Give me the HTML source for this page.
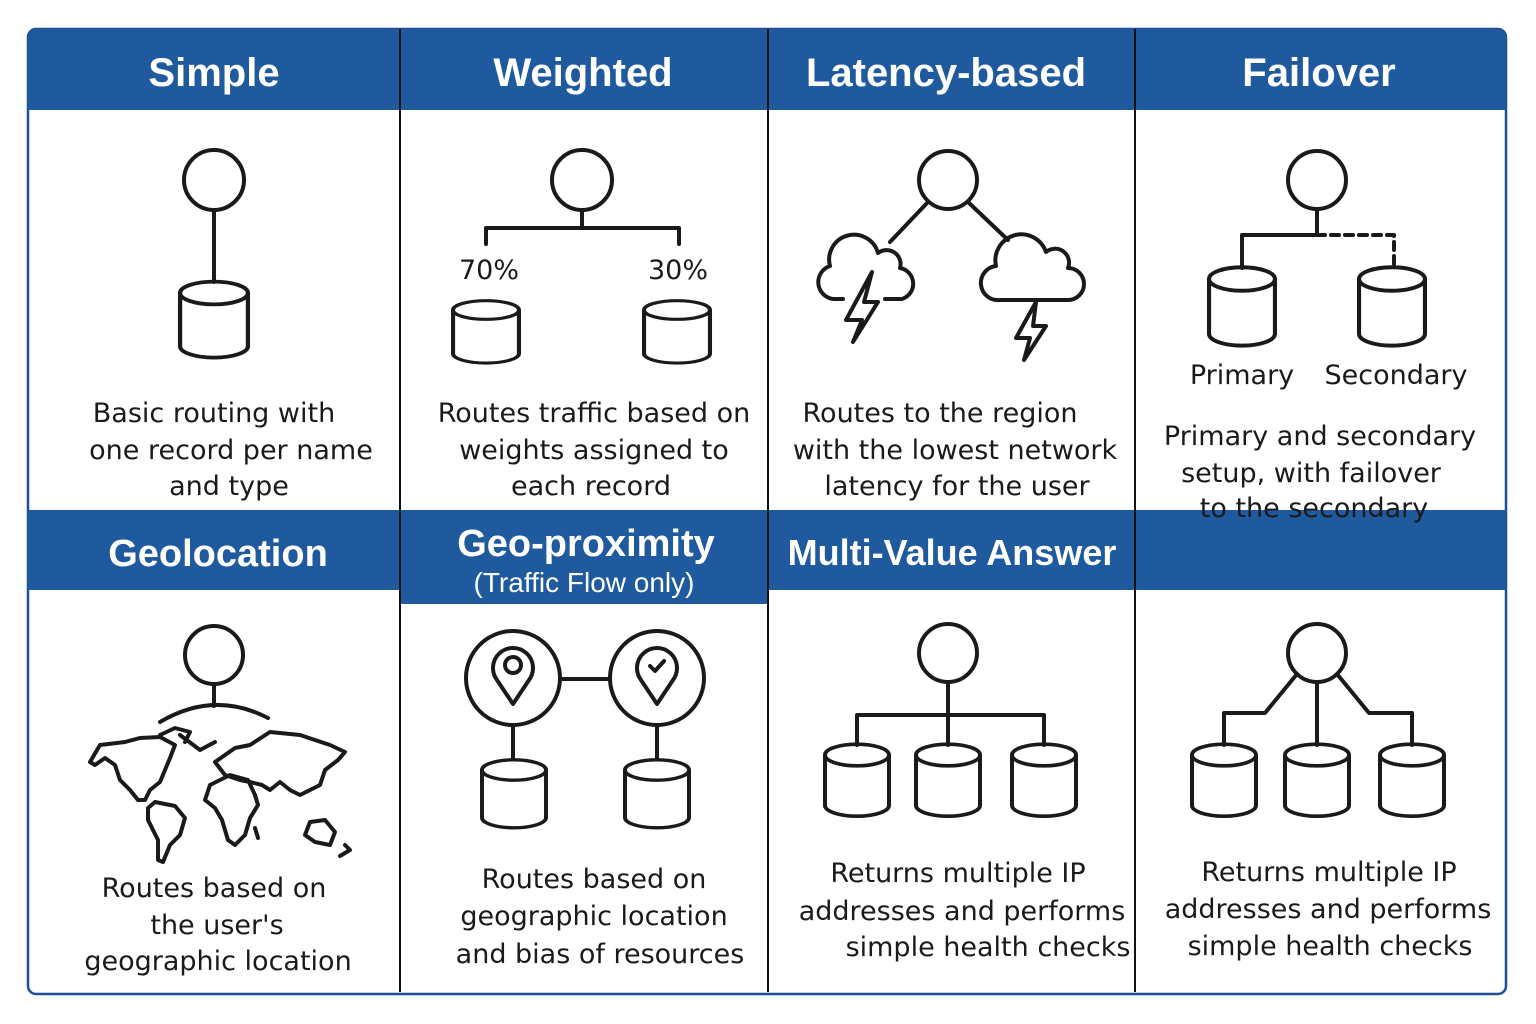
<!DOCTYPE html>
<html><head><meta charset="utf-8"><style>
html,body{margin:0;padding:0;background:#fff}
svg{display:block}
.h{font-family:"Liberation Sans",sans-serif;font-weight:bold;fill:#fff;text-anchor:middle}
.t{font-family:"DejaVu Sans","Liberation Sans",sans-serif;font-size:27px;fill:#1a1a1a;text-anchor:middle}
.s{fill:none;stroke:#1a1a1a;stroke-width:4;stroke-linejoin:round;stroke-linecap:round}
</style></head><body>
<svg width="1536" height="1024" viewBox="0 0 1536 1024" xmlns="http://www.w3.org/2000/svg">
<defs>
<g id="cyl"><path class="s" d="M-32 0 A32 12 0 0 0 32 0 A32 12 0 0 0 -32 0 Z M-32 0 V56 A32 12 0 0 0 32 56 V0" fill="#fff"/></g>
</defs>
<rect x="28" y="29" width="1478" height="965" rx="8" fill="#fff" stroke="#1f4f95" stroke-width="2.5"/>
<path d="M28 110 V37 A8 8 0 0 1 36 29 H1498 A8 8 0 0 1 1506 37 V110 Z" fill="#1f5a9e"/>
<rect x="28" y="510" width="1478" height="80" fill="#1f5a9e"/>
<rect x="400" y="510" width="368" height="94" fill="#1f5a9e"/>
<g stroke="#111" stroke-width="2">
<line x1="400" y1="29" x2="400" y2="992"/>
<line x1="768" y1="29" x2="768" y2="992"/>
<line x1="1135" y1="29" x2="1135" y2="992"/>
</g>
<text class="h" x="214" y="86" font-size="40">Simple</text>
<text class="h" x="583" y="86" font-size="40">Weighted</text>
<text class="h" x="946" y="86" font-size="40">Latency-based</text>
<text class="h" x="1319" y="86" font-size="40">Failover</text>
<text class="h" x="218" y="566" font-size="38">Geolocation</text>
<text class="h" x="586" y="556" font-size="38">Geo-proximity</text>
<text class="h" x="584" y="592" font-size="28" style="font-weight:normal">(Traffic Flow only)</text>
<text class="h" x="952" y="565" font-size="36">Multi-Value Answer</text>

<!-- Simple -->
<circle class="s" cx="214" cy="180" r="30"/>
<line class="s" x1="214" y1="210" x2="214" y2="282"/>
<g transform="translate(214,293) scale(1.06,0.95)"><use href="#cyl"/></g>
<text class="t" x="214" y="422">Basic routing with</text>
<text class="t" x="231" y="459">one record per name</text>
<text class="t" x="229" y="495">and type</text>

<!-- Weighted -->
<circle class="s" cx="582" cy="180" r="30"/>
<path class="s" d="M582 210 V228 M486 244 V228 H679 V244"/>
<text class="t" x="489" y="279">70%</text>
<text class="t" x="678" y="279">30%</text>
<g transform="translate(486,310) scale(1.03,0.78)"><use href="#cyl"/></g>
<g transform="translate(677,310) scale(1.03,0.78)"><use href="#cyl"/></g>
<text class="t" x="594" y="422">Routes traffic based on</text>
<text class="t" x="594" y="459">weights assigned to</text>
<text class="t" x="591" y="495">each record</text>

<!-- Latency -->
<circle class="s" cx="948" cy="180" r="29"/>
<path class="s" d="M928 202 L890 242 M968 202 L1008 240"/>
<path class="s" d="M843 299 H833 A17 17 0 0 1 830 266 A24 24 0 0 1 878 253 A14 14 0 0 1 900 268 A16 16 0 0 1 902 299 H885"/>
<path class="s" d="M872 272 L846 320 H862 L853 342 L878 302 H864 Z"/>
<path class="s" d="M1000 300 A16 16 0 0 1 996 266 A26 26 0 0 1 1046 252 A14 14 0 0 1 1068 268 A16 16 0 0 1 1068 300 Z"/>
<path class="s" d="M1036 302 L1016 338 H1030 L1024 360 L1046 326 H1033 Z"/>
<text class="t" x="940" y="422">Routes to the region</text>
<text class="t" x="955" y="459">with the lowest network</text>
<text class="t" x="957" y="495">latency for the user</text>

<!-- Failover -->
<circle class="s" cx="1317" cy="180" r="29"/>
<path class="s" d="M1317 209 V235 M1242 268 V235 H1317"/>
<path class="s" d="M1317 235 H1394 V266" stroke-dasharray="8 6" stroke-linecap="butt"/>
<g transform="translate(1242,279) scale(1.03,0.98)"><use href="#cyl"/></g>
<g transform="translate(1392,279) scale(1.03,0.98)"><use href="#cyl"/></g>
<text class="t" x="1242" y="384">Primary</text>
<text class="t" x="1396" y="384">Secondary</text>
<text class="t" x="1320" y="445">Primary and secondary</text>
<text class="t" x="1311" y="482">setup, with failover</text>
<text class="t" x="1314" y="517">to the secondary</text>

<!-- Geolocation -->
<circle class="s" cx="214" cy="655" r="29"/>
<path class="s" d="M214 684 V706 M160 722 Q214 690 268 718"/>
<g class="s" stroke-width="3.5">
<path d="M90 762 L100 745 L125 742 L140 738 L160 737 L175 745 L170 758 L165 770 L160 782 L150 790 L145 800 L138 800 L130 790 L120 780 L115 765 L105 758 L95 765 Z"/>
<path d="M160 735 L175 728 L190 732 L185 742 M180 735 L200 750 L215 742"/>
<path d="M155 802 L175 806 L185 818 L180 835 L170 845 L163 862 L158 860 L158 840 L148 820 L148 808 Z"/>
<path d="M210 785 L230 775 L248 780 L255 795 L258 805 L250 818 L245 835 L235 845 L228 840 L222 820 L215 808 L205 800 Z"/>
<path d="M215 762 L235 748 L250 745 L270 732 L300 735 L330 745 L345 752 L338 760 L325 770 L320 785 L310 790 L300 795 L290 790 L280 782 L270 790 L262 785 L250 782 L240 780 L225 775 Z"/>
<path d="M310 822 L325 820 L335 832 L330 845 L315 842 L305 835 Z"/>
<path d="M345 845 L350 850 L340 856"/>
<path d="M255 828 L258 838"/>
</g>
<text class="t" x="214" y="897">Routes based on</text>
<text class="t" x="217" y="934">the user's</text>
<text class="t" x="218" y="970">geographic location</text>

<!-- Geo-proximity -->
<circle class="s" cx="513" cy="678" r="47"/>
<circle class="s" cx="657" cy="678" r="47"/>
<path class="s" d="M560 679 H610 M513 725 V758 M657 725 V758"/>
<path class="s" d="M513 704 L497 680 A20 20 0 1 1 529 680 Z"/>
<circle class="s" cx="513" cy="665" r="8"/>
<path class="s" d="M657 704 L641 680 A20 20 0 1 1 673 680 Z"/>
<path class="s" d="M650 666 L655 671 L664 661"/>
<g transform="translate(514,770) scale(1,0.85)"><use href="#cyl"/></g>
<g transform="translate(657,770) scale(1,0.85)"><use href="#cyl"/></g>
<text class="t" x="594" y="888">Routes based on</text>
<text class="t" x="594" y="925">geographic location</text>
<text class="t" x="600" y="963">and bias of resources</text>

<!-- Multi-value -->
<circle class="s" cx="948" cy="653" r="29"/>
<path class="s" d="M948 682 V745 M857 745 V715 H1044 V745"/>
<g transform="translate(857,755) scale(1,0.9)"><use href="#cyl"/></g>
<g transform="translate(948,755) scale(1,0.9)"><use href="#cyl"/></g>
<g transform="translate(1044,755) scale(1,0.9)"><use href="#cyl"/></g>
<text class="t" x="958" y="882">Returns multiple IP</text>
<text class="t" x="962" y="920">addresses and performs</text>
<text class="t" x="988" y="956">simple health checks</text>

<!-- Col 4 row 2 -->
<circle class="s" cx="1317" cy="653" r="29"/>
<path class="s" d="M1317 682 V745 M1297 674 L1265 713 H1224 V745 M1337 674 L1369 713 H1412 V745"/>
<g transform="translate(1224,755) scale(1,0.9)"><use href="#cyl"/></g>
<g transform="translate(1317,755) scale(1,0.9)"><use href="#cyl"/></g>
<g transform="translate(1412,755) scale(1,0.9)"><use href="#cyl"/></g>
<text class="t" x="1329" y="881">Returns multiple IP</text>
<text class="t" x="1328" y="918">addresses and performs</text>
<text class="t" x="1330" y="955">simple health checks</text>
</svg>
</body></html>
